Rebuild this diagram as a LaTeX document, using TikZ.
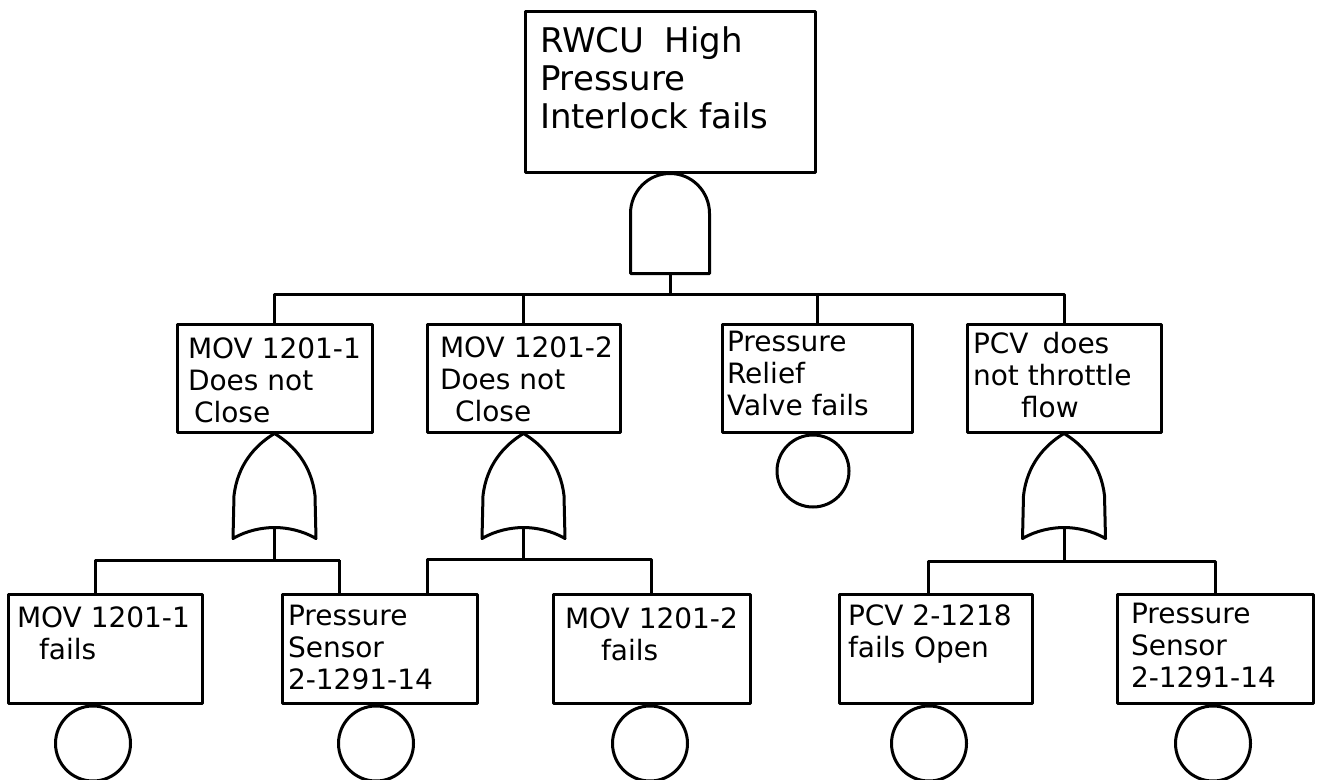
\documentclass[tikz,border=0pt]{standalone}
\usepackage{fontspec}
\newfontfamily\hand{DejaVu Sans}
\usetikzlibrary{calc}
\begin{document}
\begin{tikzpicture}[x=1pt,y=-1pt,
  line width=3pt, line join=round,
  evbox/.style={draw, rectangle, inner sep=0pt, line width=3pt},
  basic/.style={draw, circle, inner sep=0pt, minimum size=75pt, anchor=north, line width=3pt},
  tbig/.style={anchor=north west, inner sep=0pt, align=left, font={\hand\fontsize{34}{38}\selectfont}},
  tsml/.style={anchor=north west, inner sep=0pt, align=left, font={\hand\fontsize{28}{32}\selectfont}},
  wire/.style={line width=3pt},
  andgate/.pic={
    \draw[line width=3pt] (-39.5,100) -- (-39.5,40) .. controls (-39.5,18) and (-22,0) .. (0,0)
      .. controls (22,0) and (39.5,18) .. (39.5,40) -- (39.5,100) -- cycle;
    \coordinate (-out) at (0,0);
    \coordinate (-in) at (0,100);
  },
  orgate/.pic={
    \draw[line width=3pt] (0,0) .. controls (-20,12) and (-37,32) .. (-40.5,62) -- (-41.5,105)
      .. controls (-28,97) and (-12,94) .. (0,94) .. controls (12,94) and (28,97) .. (41.5,105)
      -- (40.5,62) .. controls (37,32) and (20,12) .. (0,0) -- cycle;
    \coordinate (-out) at (0,0);
    \coordinate (-in) at (0,94);
  }
]
\fill[white] (0,0) rectangle (1319,779);
\useasboundingbox (0,0) rectangle (1319,779);

% top event
\node[evbox, minimum width=290pt, minimum height=161pt] (top) at (670,91.5) {};
\node[tbig] (ttop) at ([shift={(15,16)}]top.north west) {RWCU\hspace{0.6em}High\\Pressure\\Interlock fails};
\pic (andg) at (top.south) {andgate};

% level 2 events
\node[evbox, minimum width=195pt, minimum height=108pt] (A) at (274.5,378) {};
\node[evbox, minimum width=193pt, minimum height=108pt] (B) at (523.5,378) {};
\node[evbox, minimum width=190pt, minimum height=108pt] (C) at (817,378) {};
\node[evbox, minimum width=194pt, minimum height=108pt] (D) at (1064,378) {};
\node[tsml] (tA) at ([shift={(11,14)}]A.north west) {MOV 1201-1\\Does not\\\hspace*{6pt}Close};
\node[tsml] (tB) at ([shift={(13,13)}]B.north west) {MOV 1201-2\\Does not\\\hspace*{15pt}Close};
\node[tsml] (tC) at ([shift={(5,7)}]C.north west) {Pressure\\Relief\\Valve fails};
\node[tsml] (tD) at ([shift={(6,8)}]D.north west) {PCV\hspace{0.5em}does\\not throttle\\\hspace*{48pt}flow};

\coordinate (bus1) at (670,294);
\draw[wire] (andg-in) -- (andg-in |- bus1);
\draw[wire] (A.north) |- (bus1);
\draw[wire] (D.north) |- (bus1);
\draw[wire] (B.north) -- (B.north |- bus1);
\draw[wire] (C.north) -- (C.north |- bus1);

% gates / basic event of level 2
\pic (orA) at (A.south) {orgate};
\pic (orB) at (B.south) {orgate};
\pic (orD) at (D.south) {orgate};
\node[basic, minimum size=72pt] (cC) at ([xshift=-4pt]C.south) {};

% bottom events
\node[evbox, minimum width=194pt, minimum height=109pt] (b1) at (105,648.5) {};
\node[evbox, minimum width=195pt, minimum height=109pt] (b2) at (379.5,648.5) {};
\node[evbox, minimum width=197pt, minimum height=109pt] (b3) at (651.5,648.5) {};
\node[evbox, minimum width=193pt, minimum height=109pt] (b4) at (935.5,648.5) {};
\node[evbox, minimum width=196pt, minimum height=109pt] (b5) at (1215,648.5) {};
\node[tsml] (t1) at ([shift={(9,13)}]b1.north west) {MOV 1201-1\\\hspace*{22pt}fails};
\node[tsml] (t2) at ([shift={(6,11)}]b2.north west) {Pressure\\Sensor\\2-1291-14};
\node[tsml] (t3) at ([shift={(12,14)}]b3.north west) {MOV 1201-2\\\hspace*{36pt}fails};
\node[tsml] (t4) at ([shift={(9,11)}]b4.north west) {PCV 2-1218\\fails Open};
\node[tsml] (t5) at ([shift={(14,9)}]b5.north west) {Pressure\\Sensor\\2-1291-14};

\coordinate (busA) at (274.5,560);
\coordinate (busB) at (523.5,559);
\coordinate (busD) at (1064,561);
\draw[wire] (orA-in) -- (busA);
\draw[wire] ([xshift=-10pt]b1.north) |- ([xshift=-10pt]b1.north |- busA) -- ([xshift=-40pt]b2.north |- busA);
\draw[wire] ([xshift=-40pt]b2.north) -- ([xshift=-40pt]b2.north |- busA);
\draw[wire] (orB-in) -- (busB);
\draw[wire] ([xshift=48pt]b2.north) |- (b3.north |- busB) -- (b3.north);
\draw[wire] (orD-in) -- (busD);
\draw[wire] ([xshift=-7pt]b4.north) |- (b5.north |- busD) -- (b5.north);

% basic events
\node[basic] (c1) at ([xshift=-12pt]b1.south) {};
\node[basic] (c2) at ([xshift=-3.5pt]b2.south) {};
\node[basic] (c3) at ([xshift=-1.5pt]b3.south) {};
\node[basic] (c4) at ([xshift=-6.5pt]b4.south) {};
\node[basic] (c5) at ([xshift=-2pt]b5.south) {};
\end{tikzpicture}
\end{document}
